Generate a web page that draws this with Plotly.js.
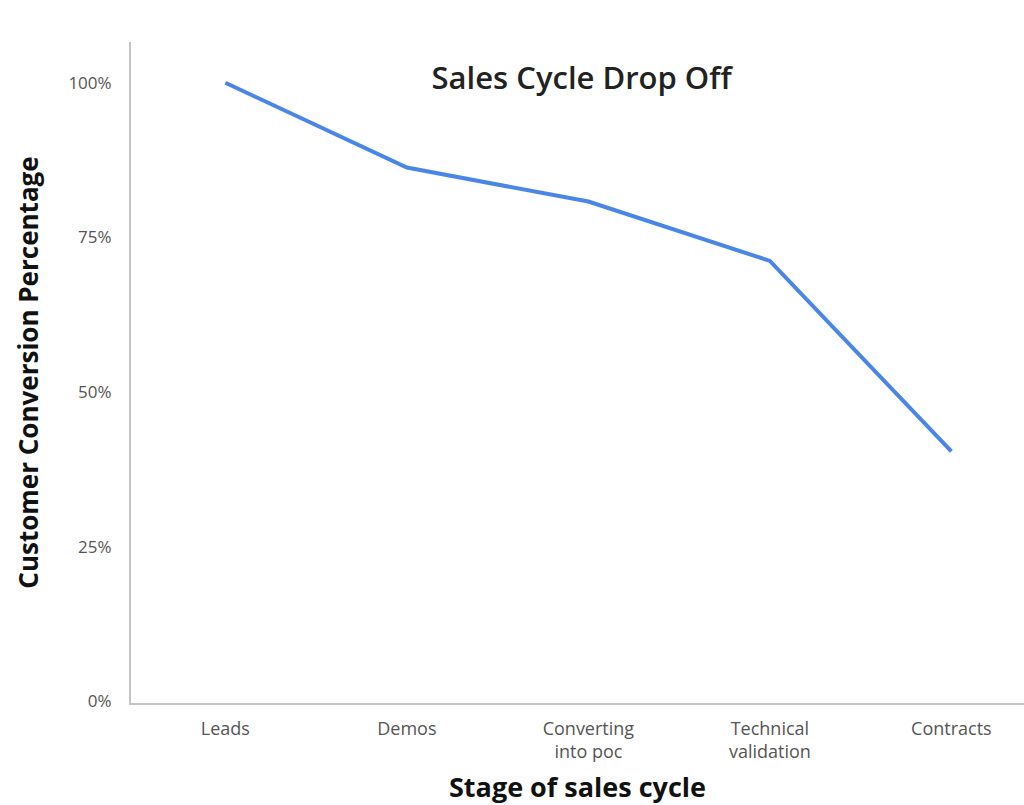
<!DOCTYPE html>
<html>
<head>
<meta charset="utf-8">
<script src="https://cdn.plot.ly/plotly-3.0.1.min.js"></script>
<style>html,body{margin:0;padding:0;background:#fff;overflow:hidden;}#chart{width:1024px;height:805px;}</style>
</head>
<body>
<div id="chart"></div>
<script>
const stages = ["Leads", "Demos", "Converting<br>into poc", "Technical<br>validation", "Contracts"];
const conversion = [100, 86.3, 80.8, 71.2, 40.4];
const yTickValues = [0, 25, 50, 75, 100];
const yTickLabels = ["0%", "25%", "50%", "75%", "100%"];

const trace = {
  x: stages,
  y: conversion,
  type: "scatter",
  mode: "lines",
  line: {color: "#4a86e8", width: 4},
  hoverinfo: "skip"
};

const layout = {
  width: 1024,
  height: 805,
  margin: {l: 131, r: 0, t: 42, b: 102},
  paper_bgcolor: "#ffffff",
  plot_bgcolor: "#ffffff",
  showlegend: false,
  font: {family: "'Open Sans', Roboto, sans-serif", color: "#555555"},
  title: {
    text: "Sales Cycle Drop Off",
    font: {size: 31, color: "#222222", family: "'Open Sans', Roboto, sans-serif", weight: 600},
    x: 0.568, xanchor: "center",
    y: 1 - 78/805, yanchor: "middle"
  },
  xaxis: {
    type: "category",
    range: [-0.52, 4.40],
    showgrid: false,
    zeroline: false,
    showline: true,
    linecolor: "#c4c4c4",
    linewidth: 2,
    ticks: "",
    ticklabelstandoff: 8,
    tickfont: {size: 18, color: "#555555"},
    title: {
      text: "Stage of sales cycle",
      font: {size: 27, color: "#111111", family: "'Open Sans', Roboto, sans-serif", weight: "bold"},
      standoff: 40
    },
    automargin: false,
    fixedrange: true
  },
  yaxis: {
    range: [-0.3, 106.6],
    tickvals: yTickValues,
    ticktext: yTickLabels,
    showgrid: false,
    zeroline: false,
    showline: true,
    linecolor: "#c4c4c4",
    linewidth: 2,
    ticks: "",
    ticklabelstandoff: 14,
    tickfont: {size: 17, color: "#555555"},
    title: {
      text: "Customer Conversion Percentage",
      font: {size: 26, color: "#111111", family: "'Open Sans', Roboto, sans-serif", weight: "bold"},
      standoff: 22
    },
    automargin: false,
    fixedrange: true
  }
};

Plotly.newPlot("chart", [trace], layout, {displayModeBar: false, staticPlot: true});
</script>
</body>
</html>
